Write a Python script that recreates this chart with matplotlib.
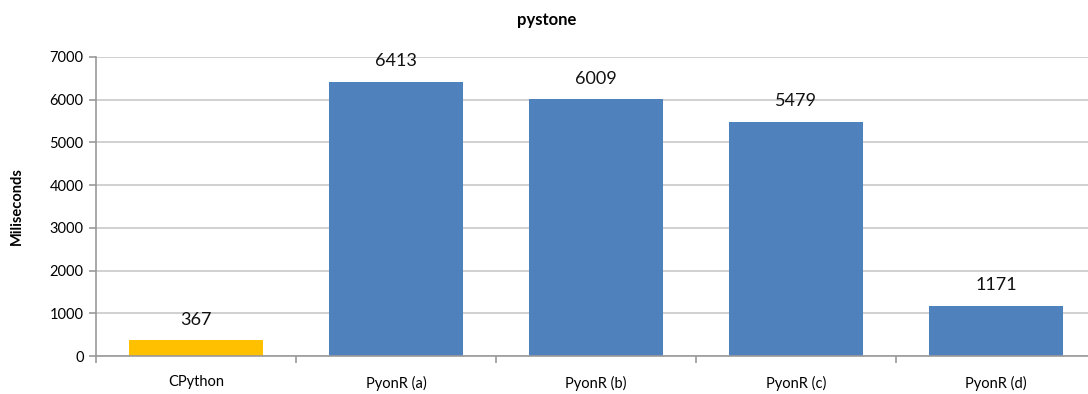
import matplotlib
matplotlib.use('Agg')
import matplotlib.pyplot as plt
import numpy as np

plt.rcParams['font.family'] = ['Lato', 'DejaVu Sans']

categories = ['CPython', 'PyonR (a)', 'PyonR (b)', 'PyonR (c)', 'PyonR (d)']
values = [367, 6413, 6009, 5479, 1171]
colors = ['#FFC000', '#4F81BD', '#4F81BD', '#4F81BD', '#4F81BD']

fig = plt.figure(figsize=(10.88, 3.94), dpi=100, facecolor='white')
ax = fig.add_axes([96/1088, 1 - 356/394, 1000/1088, 299/394])

x = np.arange(len(categories))
ax.bar(x, values, width=0.667, color=colors, zorder=2)

for xi, v in zip(x, values):
    ax.text(xi, v + 300, str(v), ha='center', va='bottom', fontsize=13, color='#111111')

ax.set_xlim(-0.5, len(categories) - 0.5)
ax.set_ylim(0, 7000)
ax.set_yticks(np.arange(0, 7001, 1000))
ax.yaxis.grid(True, color='#c8c8c8', linewidth=1.2, zorder=0)
ax.set_axisbelow(True)

ax.set_xticks(x)
ax.set_xticklabels(categories, fontsize=10.5)
ax.set_xticks(np.arange(-0.5, len(categories), 1), minor=True)
ax.tick_params(axis='x', which='major', length=0, pad=14)
ax.tick_params(axis='x', which='minor', length=5, color='#999999', width=1.2)
ax.tick_params(axis='y', length=5, color='#999999', width=1.2, labelsize=10.5, pad=4)

for s in ['top', 'right']:
    ax.spines[s].set_visible(False)
for s in ['left', 'bottom']:
    ax.spines[s].set_color('#999999')
    ax.spines[s].set_linewidth(1.2)

ax.set_ylabel('Miliseconds', fontsize=10.5, fontweight='bold', labelpad=18)
fig.text(547/1088, 1 - 20/394, 'pystone', ha='center', va='center',
         fontsize=12, fontweight='bold')

plt.savefig('out.png', dpi=100)
